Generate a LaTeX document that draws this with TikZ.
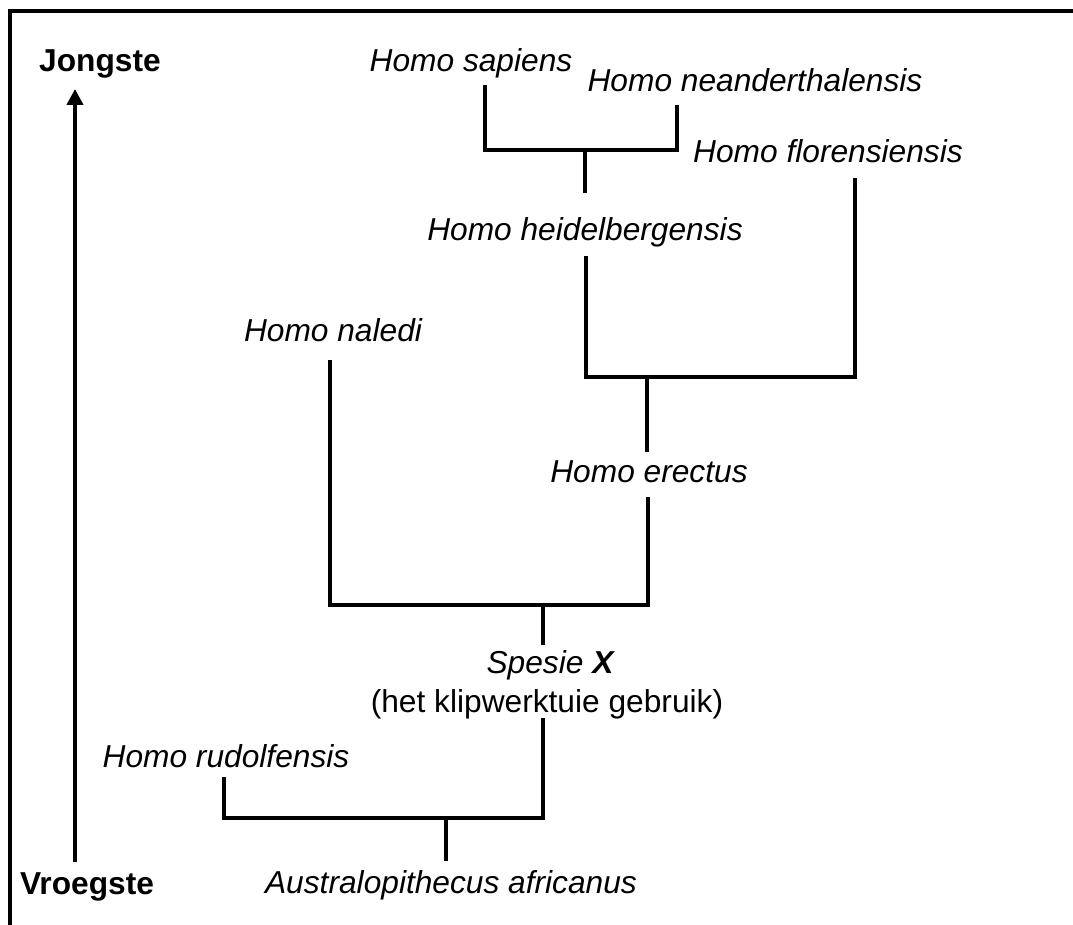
\documentclass[tikz,border=0pt]{standalone}
\usepackage{fontspec}
\setmainfont{Liberation Sans}
\usetikzlibrary{arrows.meta}

\begin{document}
\begin{tikzpicture}[x=0.5pt, y=-0.5pt,
  taxon/.style={font=\fontsize{15.85}{19}\selectfont\itshape, anchor=base, inner sep=0pt},
  plain/.style={font=\fontsize{15.85}{19}\selectfont, anchor=base, inner sep=0pt},
  axislabel/.style={font=\fontsize{15.85}{19}\selectfont\bfseries, anchor=base, inner sep=0pt},
  branch/.style={line width=2pt}]

  \useasboundingbox (0,0) rectangle (1073,925);

  % Frame, cut off at the right and at the bottom
  \draw[branch] (9.5,925) -- (9.5,11) -- (1073,11);

  % Time axis
  \node[axislabel] (jong)  at (100,72)  {Jongste};
  \node[axislabel] (vroeg) at (87,894)  {Vroegste};
  \coordinate (tbot) at (75,862);
  \coordinate (ttop) at (75,89);
  \draw[branch, -{Triangle[length=8pt, width=8pt]}] (tbot) -- (ttop);

  % Species labels (x = centre, y = baseline)
  \node[taxon] (sapiens) at (471,72)  {Homo sapiens};
  \node[taxon] (neander) at (755,92)  {Homo neanderthalensis};
  \node[taxon] (floren)  at (828,163) {Homo florensiensis};
  \node[taxon] (heidel)  at (585,241) {Homo heidelbergensis};
  \node[taxon] (naledi)  at (333,342) {Homo naledi};
  \node[taxon] (erectus) at (649,483) {Homo erectus};
  \node[taxon] (spesie)  at (550,674) {Spesie \textbf{X}};
  \node[plain] (klip)    at (547,712) {(het klipwerktuie gebruik)};
  \node[taxon] (rudolf)  at (226,768) {Homo rudolfensis};
  \node[taxon] (austral) at (451,893) {Australopithecus africanus};

  % Branch ends and forks
  \coordinate (sapT) at (485,85);
  \coordinate (neaT) at (677,105);
  \coordinate (sn)   at (585,150);
  \coordinate (heiT) at (585,193);
  \coordinate (heiB) at (586,256);
  \coordinate (floT) at (855,178);
  \coordinate (hf)   at (647,377);
  \coordinate (ereT) at (647,452);
  \coordinate (ereB) at (648,497);
  \coordinate (nalT) at (330,360);
  \coordinate (ne)   at (543,605);
  \coordinate (spT)  at (543,645);
  \coordinate (spB)  at (543,718);
  \coordinate (rudT) at (224,777);
  \coordinate (rs)   at (446,818);
  \coordinate (ausT) at (446,861);

  % Tree
  \draw[branch] (sapT) |- (sn) -| (neaT);
  \draw[branch] (sn) -- (heiT);
  \draw[branch] (heiB) |- (hf) -| (floT);
  \draw[branch] (hf) -- (ereT);
  \draw[branch] (nalT) |- (ne) -| (ereB);
  \draw[branch] (ne) -- (spT);
  \draw[branch] (rudT) |- (rs) -| (spB);
  \draw[branch] (rs) -- (ausT);

\end{tikzpicture}
\end{document}
